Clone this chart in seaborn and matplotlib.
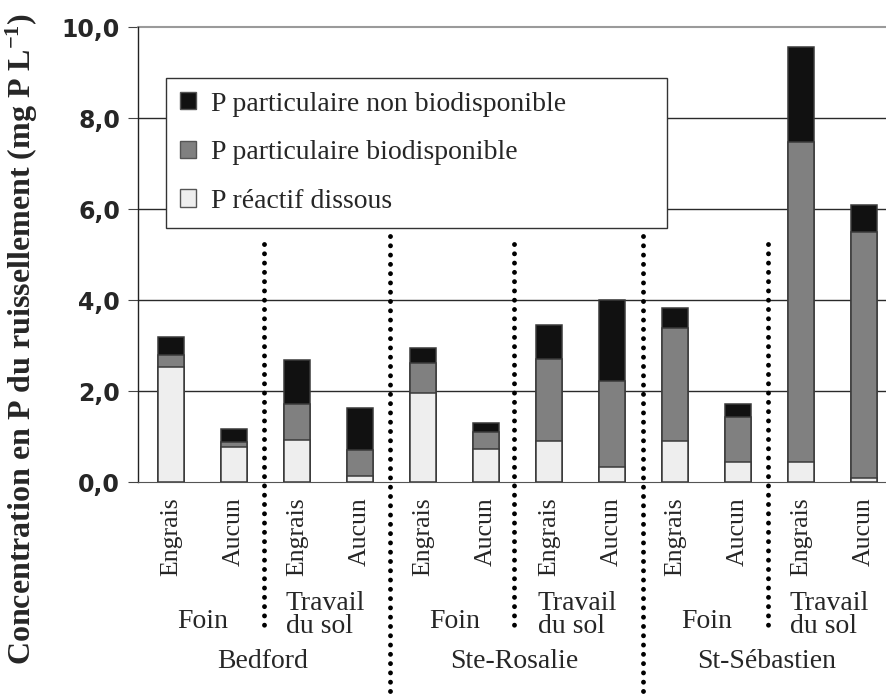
import numpy as np
import pandas as pd
import seaborn as sns
import matplotlib.pyplot as plt
from matplotlib.patches import Patch

sns.set_style("ticks")
plt.rcParams['font.family'] = ['Liberation Serif', 'DejaVu Serif']
plt.rcParams['mathtext.default'] = 'regular'

# données (mg P / L)
traitements = ['Engrais', 'Aucun'] * 6
dissous = [2.52, 0.77, 0.93, 0.13, 1.95, 0.72, 0.90, 0.33, 0.90, 0.45, 0.45, 0.09]
bio = [0.27, 0.11, 0.78, 0.58, 0.66, 0.38, 1.81, 1.88, 2.49, 0.97, 7.02, 5.40]
non_bio = [0.39, 0.28, 0.97, 0.91, 0.34, 0.20, 0.73, 1.78, 0.44, 0.30, 2.09, 0.60]
cultures = ['Foin', 'Travail\ndu sol'] * 3
sites = ['Bedford', 'Ste-Rosalie', 'St-Sébastien']
y_ticks = [0, 2, 4, 6, 8, 10]

df = pd.DataFrame({'id': range(12), 'dissous': dissous, 'bio': bio, 'non_bio': non_bio})
df['cum_bio'] = df['dissous'] + df['bio']
df['total'] = df['cum_bio'] + df['non_bio']

fig = plt.figure(figsize=(8.86, 6.94), dpi=100)
ax = fig.add_axes([138 / 886, 212 / 694, 748 / 886, 455 / 694])

couleurs = {'non_bio': '#111111', 'bio': '#808080', 'dissous': '#eeeeee'}
for col, c in [('total', couleurs['non_bio']), ('cum_bio', couleurs['bio']), ('dissous', couleurs['dissous'])]:
    sns.barplot(data=df, x='id', y=col, color=c, width=0.4, saturation=1,
                edgecolor='#3a3a3a', linewidth=1.1, ax=ax, zorder=3)

ax.set_xlim(-0.524, 11.35)
ax.set_ylim(0, 10)
ax.set_yticks(y_ticks)
ax.set_yticklabels([f'{v:.1f}'.replace('.', ',') for v in y_ticks],
                   fontfamily='DejaVu Sans', fontweight='bold', fontsize=17)
ax.tick_params(axis='y', length=7, width=0.8, pad=6, color='#444444')
ax.set_xticks(range(12))
ax.set_xticklabels(traitements, rotation=90, fontsize=18.5)
ax.tick_params(axis='x', length=0, pad=11)
ax.set_xlabel('')
ax.set_ylabel('')

for v in y_ticks[1:-1]:
    ax.axhline(v, color='#2a2a2a', lw=1.0, zorder=1)
ax.axhline(10, color='#9a9a9a', lw=1.5, zorder=1, clip_on=False)
for s in ['top', 'right']:
    ax.spines[s].set_visible(False)
ax.spines['left'].set_color('#222222')
ax.spines['bottom'].set_color('#555555')
ax.spines['left'].set_linewidth(1.0)

# séparateurs pointillés
pointille = dict(color='black', lw=3.5, linestyle=(0, (0.01, 1.9)),
                 dash_capstyle='round', clip_on=False, zorder=4)
for xs in [1.47, 5.45, 9.47]:
    ax.plot([xs, xs], [5.22, -3.26], **pointille)
for xs in [3.48, 7.5]:
    ax.plot([xs, xs], [5.4, -4.7], **pointille)

# étiquettes de culture et de site
for i, cult in enumerate(cultures):
    x = 2 * i + 0.5
    if cult == 'Foin':
        ax.text(x, -3.2, cult, ha='center', va='baseline', fontsize=20)
    else:
        ax.text(x - 0.05, -3.32, cult, ha='center', va='baseline', fontsize=20,
                multialignment='left', linespacing=0.9)
for i, site in enumerate(sites):
    ax.text(4 * i + 1.45, -4.08, site, ha='center', va='baseline', fontsize=20)

fig.text(22 / 886, 1 - 339 / 694,
         'Concentration en P du ruissellement (mg P L$^{-1}$)',
         rotation=90, ha='center', va='center', fontsize=23, fontweight='bold')

handles = [Patch(facecolor=couleurs['non_bio'], edgecolor='#555555', label='P particulaire non biodisponible'),
           Patch(facecolor=couleurs['bio'], edgecolor='#555555', label='P particulaire biodisponible'),
           Patch(facecolor=couleurs['dissous'], edgecolor='#555555', label='P réactif dissous')]
leg = ax.legend(handles=handles, loc='upper left', bbox_to_anchor=(0.0374, 0.5, 0.67, 0.3886),
                mode='expand', fontsize=20, handlelength=0.58, handleheight=0.58,
                handletextpad=0.55, labelspacing=0.85, borderpad=0.5, borderaxespad=0,
                fancybox=False, framealpha=1, edgecolor='#333333')
leg.get_frame().set_linewidth(1.0)
leg.set_zorder(5)

plt.savefig('out.png', dpi=100)
